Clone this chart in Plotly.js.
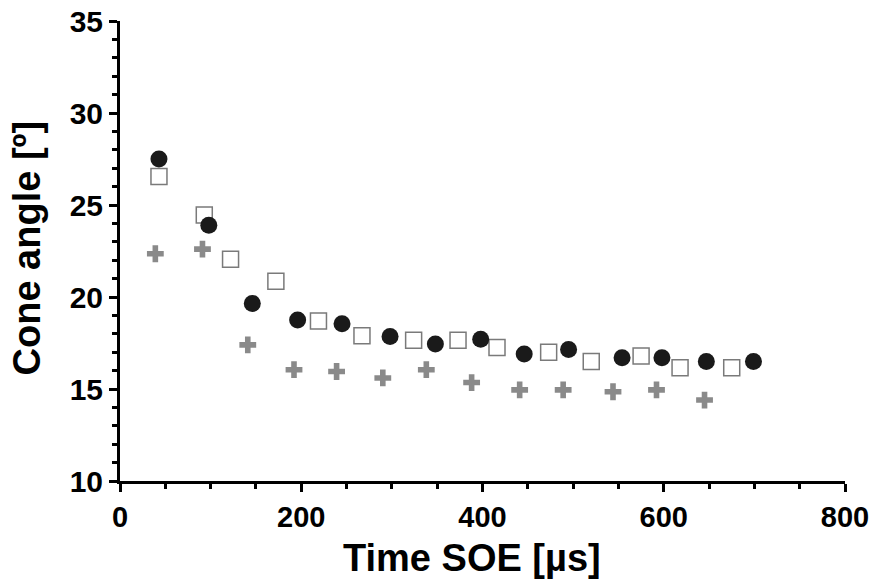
<!DOCTYPE html>
<html>
<head>
<meta charset="utf-8">
<script src="https://cdn.plot.ly/plotly-3.0.1.min.js"></script>
<style>html,body{margin:0;padding:0;background:#fff;}#chart{width:876px;height:582px;}</style>
</head>
<body>
<div id="chart"></div>
<script>
// Filled circles (black)
const circleX = [43, 98, 146, 196, 245, 298, 348, 398, 446, 495, 554, 598, 647, 699];
const circleY = [27.5, 23.9, 19.65, 18.75, 18.55, 17.85, 17.45, 17.7, 16.9, 17.15, 16.7, 16.7, 16.5, 16.5];
// Open squares (grey outline)
const squareX = [43, 93, 122, 172, 219, 267, 324, 373, 416, 473, 520, 575, 618, 675];
const squareY = [26.55, 24.45, 22.05, 20.85, 18.7, 17.9, 17.65, 17.65, 17.25, 17.0, 16.5, 16.8, 16.15, 16.15];
// Grey crosses
const crossX = [39, 91, 141, 192, 239, 290, 338, 388, 441, 489, 544, 592, 645];
const crossY = [22.35, 22.6, 17.4, 16.05, 15.95, 15.6, 16.05, 15.35, 14.95, 14.95, 14.85, 14.95, 14.4];

const xTickVals = [0, 200, 400, 600, 800];
const yTickVals = [10, 15, 20, 25, 30, 35];
const xTitle = 'Time SOE [µs]';
const yTitle = 'Cone angle [º]';

const FONT = 'Liberation Sans, Arial, sans-serif';

const traces = [
  {x: crossX, y: crossY, type: 'scatter', mode: 'markers',
   marker: {symbol: 'cross', size: 14, color: '#8a8a8a', line: {width: 0}}},
  {x: squareX, y: squareY, type: 'scatter', mode: 'markers',
   marker: {symbol: 'square-open', size: 16, color: '#7a7a7a', line: {width: 1.5, color: '#7a7a7a'}}},
  {x: circleX, y: circleY, type: 'scatter', mode: 'markers',
   marker: {symbol: 'circle', size: 17, color: '#1a1a1a', line: {width: 0}}}
];

const layout = {
  width: 876, height: 582,
  margin: {l: 120, r: 31, t: 21, b: 101},
  paper_bgcolor: '#ffffff', plot_bgcolor: '#ffffff',
  showlegend: false,
  font: {family: FONT, color: '#000', weight: 'bold'},
  xaxis: {
    range: [0, 800], tickvals: xTickVals, ticktext: xTickVals.map(String),
    showgrid: false, zeroline: false, showline: true, linecolor: '#000', linewidth: 3,
    ticks: 'outside', ticklen: 8, tickwidth: 3, tickcolor: '#000',
    tickfont: {family: FONT, size: 29, weight: 'bold', color: '#000'},
    minor: {dtick: 50, ticks: 'outside', ticklen: 5, tickwidth: 3, tickcolor: '#000', showgrid: false},
    automargin: false, fixedrange: true
  },
  yaxis: {
    range: [10, 35], tickvals: yTickVals, ticktext: yTickVals.map(String),
    showgrid: false, zeroline: false, showline: true, linecolor: '#000', linewidth: 3,
    ticks: 'outside', ticklen: 8, tickwidth: 3, tickcolor: '#000',
    tickfont: {family: FONT, size: 30, weight: 'bold', color: '#000'},
    minor: {dtick: 1, ticks: 'outside', ticklen: 5, tickwidth: 3, tickcolor: '#000', showgrid: false},
    automargin: false, fixedrange: true
  },
  annotations: [
    {text: xTitle, xref: 'paper', yref: 'paper', x: 0.4855, y: 0, xanchor: 'center', yanchor: 'middle',
     yshift: -77, showarrow: false, font: {family: FONT, size: 38, weight: 'bold', color: '#000'}},
    {text: yTitle, xref: 'paper', yref: 'paper', x: -0.1283, y: 0.5076, xanchor: 'center', yanchor: 'middle',
     textangle: -90, showarrow: false, font: {family: FONT, size: 38, weight: 'bold', color: '#000'}}
  ]
};

Plotly.newPlot('chart', traces, layout, {displayModeBar: false, staticPlot: true});
</script>
</body>
</html>
